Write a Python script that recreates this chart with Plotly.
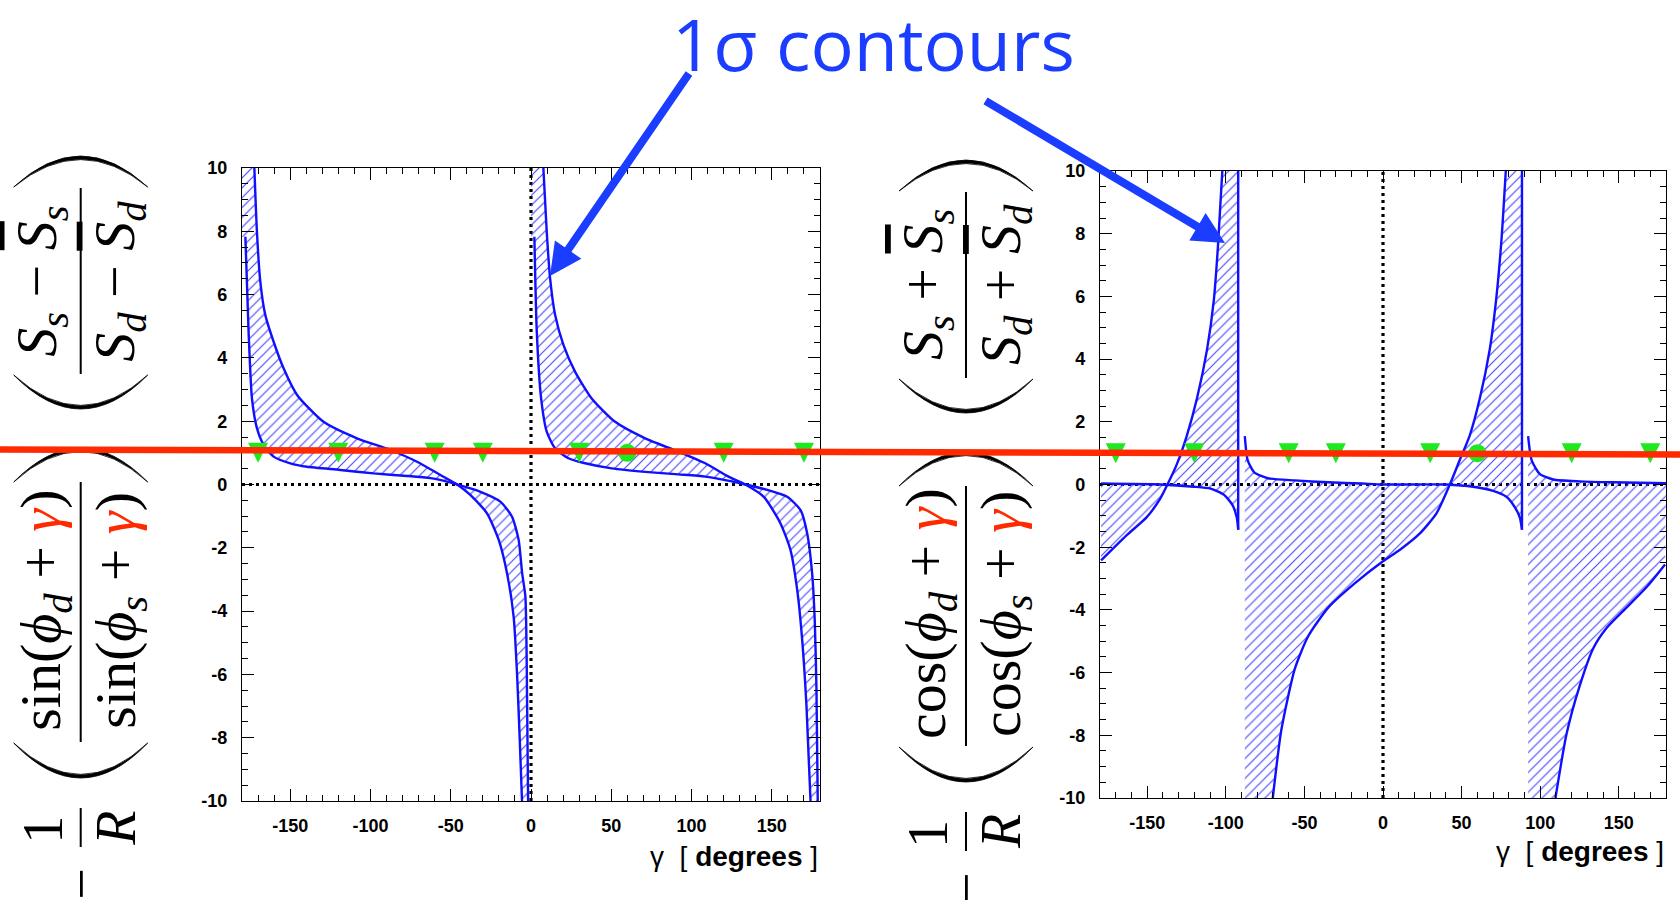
import plotly.graph_objects as go

W, H = 1680, 900

# ---------------- axes / ticks ----------------
X_RANGE = [-180, 180]
Y_RANGE = [-10, 10]
X_TICKS = [-150, -100, -50, 0, 50, 100, 150]
X_TICKTEXT = ["-150", "-100", "-50", "0", "50", "100", "150"]
Y_TICKS = [-10, -8, -6, -4, -2, 0, 2, 4, 6, 8, 10]
Y_TICKTEXT = ["-10", "-8", "-6", "-4", "-2", "0", "2", "4", "6", "8", "10"]
X_MID = 0

# ---------------- left panel (sin ratio) : 1 sigma band boundaries ----------------
P1_g = [-172.3, -170.7, -168.6, -165.5, -160.3, -154.1, -145.7, -129.2, -108.4, -87.6, -71.0,
        -56.4, -46.0, -37.8, -27.4, -20.1, -14.9, -10.8, -8.7, -7.0, -5.6]
P1_v = [10.0, 7.99, 6.41, 5.36, 4.51, 3.67, 2.83, 1.98, 1.46, 1.09, 0.72,
        0.30, 0.0, -0.33, -0.91, -1.75, -2.81, -4.18, -5.97, -8.07, -10.0]
Q1_g = [-177.9, -175.9, -173.8, -170.7, -166.5, -160.3, -149.9, -139.5, -118.8, -98.0, -77.2,
        -62.7, -52.3, -46.0, -31.5, -19.1, -11.8, -7.7, -5.5, -3.5, -2.4, -1.8]
Q1_v = [7.83, 4.83, 2.72, 1.78, 1.25, 0.88, 0.67, 0.56, 0.46, 0.35, 0.27,
        0.20, 0.09, 0.0, -0.23, -0.54, -1.02, -1.75, -2.81, -3.54, -7.02, -10.0]
P2_g = [7.7, 9.8, 11.9, 15.0, 20.2, 27.5, 37.8, 52.4, 71.1, 91.8, 108.5, 123.0, 133.5,
        145.0, 155.4, 161.6, 165.8, 168.9, 171.6, 174.1]
P2_v = [10.0, 7.99, 6.51, 5.36, 4.41, 3.56, 2.72, 1.98, 1.46, 1.04, 0.67, 0.25, 0.0,
        -0.39, -1.23, -2.07, -3.33, -4.91, -7.02, -10.0]
Q2_g = [2.1, 3.6, 6.3, 9.8, 15.0, 23.3, 33.7, 50.3, 71.1, 91.8, 108.5, 120.9, 133.5,
        147.1, 159.6, 167.9, 172.0, 175.1, 176.8, 177.8, 178.6]
Q2_v = [7.83, 4.83, 2.72, 1.67, 1.14, 0.83, 0.67, 0.51, 0.40, 0.32, 0.25, 0.14, 0.0,
        -0.17, -0.39, -0.81, -1.54, -2.81, -4.39, -6.49, -10.0]

# ---------------- right panel (cos ratio) ----------------
GA_g = [-179.3, -163.3, -150.4, -141.8, -137.1, -131.1, -124.7, -118.3, -111.9, -107.6, -105.0, -102.2]
GA_v = [-2.42, -1.63, -1.05, -0.46, 0.0, 0.65, 1.57, 2.75, 4.31, 5.88, 7.58, 10.0]
FA_g = [-179.3, -141.8, -120.4, -109.7, -101.1, -95.8, -93.0, -92.1]
FA_v = [0.03, 0.0, -0.07, -0.13, -0.33, -0.65, -1.05, -1.44]
FB_g = [-87.9, -86.1, -81.9, -73.3, -56.1, -34.7, -13.3, 0.0, 40.3, 57.3, 70.0, 78.5, 83.8, 87.0, 88.4]
FB_v = [1.54, 0.78, 0.39, 0.20, 0.13, 0.07, 0.03, 0.0, 0.0, -0.07, -0.20, -0.39, -0.72, -1.05, -1.44]
GB_g = [-70.1, -64.7, -56.1, -47.6, -34.7, -17.6, 0.0, 10.6, 23.3, 34.0, 42.5, 48.8, 55.2,
        61.6, 67.9, 72.2, 75.4, 78.1]
GB_v = [-10.0, -7.84, -5.88, -4.84, -3.92, -3.14, -2.45, -2.09, -1.57, -0.92, 0.0, 0.78, 1.57,
        2.75, 4.31, 6.01, 7.84, 10.0]
FC_g = [92.3, 94.5, 99.8, 108.3, 125.2, 146.5, 180.0]
FC_v = [1.54, 0.78, 0.33, 0.16, 0.10, 0.07, 0.04]
GC_g = [109.7, 116.7, 125.2, 133.7, 142.2, 155.0, 167.7, 179.4]
GC_v = [-10.0, -7.97, -6.41, -5.23, -4.58, -3.92, -3.27, -2.55]

# ---------------- reference points ----------------
TRI_g = [-170, -120, -60, -30, 30, 120, 170]
TRI_v = [1.0, 1.0, 1.0, 1.0, 1.0, 1.0, 1.0]
CIRC_g = [60]
CIRC_v = [1.0]

# ---------------- styles ----------------
BLUE = "#1010ff"
HATCH = "#4a4aff"
GREEN = "#1ee81e"
RED = "#ff2a00"
ARROW = "#1a3dff"

fig = go.Figure()


def band(x, y, xa, ya):
    fig.add_trace(go.Scatter(
        x=x, y=y, xaxis=xa, yaxis=ya, mode="lines", line=dict(width=0, color=HATCH),
        fill="toself", fillcolor="rgba(0,0,0,0)",
        fillpattern=dict(shape="/", fgcolor=HATCH, bgcolor="rgba(0,0,0,0)", size=7, solidity=0.17),
        hoverinfo="skip", showlegend=False))


def curve(x, y, xa, ya, shape="spline"):
    fig.add_trace(go.Scatter(
        x=x, y=y, xaxis=xa, yaxis=ya, mode="lines",
        line=dict(color=BLUE, width=2.4, shape=shape, smoothing=0.6),
        hoverinfo="skip", showlegend=False))


# left panel bands
band([X_RANGE[0]] + P1_g + Q1_g[::-1] + [X_RANGE[0]],
     [Y_RANGE[1]] + P1_v + Q1_v[::-1] + [Q1_v[0]], "x", "y")
band([X_MID] + P2_g + Q2_g[::-1] + [X_MID],
     [Y_RANGE[1]] + P2_v + Q2_v[::-1] + [Q2_v[0]], "x", "y")
for gx, gy in [(P1_g, P1_v), (Q1_g, Q1_v), (P2_g, P2_v), (Q2_g, Q2_v)]:
    curve(gx, gy, "x", "y")

# right panel bands
band(FA_g + [FA_g[-1]] + GA_g[::-1], FA_v + [Y_RANGE[1]] + GA_v[::-1], "x2", "y2")
band(FB_g + [FB_g[-1]] + GB_g[::-1] + [FB_g[0]],
     FB_v + [Y_RANGE[1]] + GB_v[::-1] + [Y_RANGE[0]], "x2", "y2")
band(FC_g + GC_g[::-1] + [FC_g[0]], FC_v + GC_v[::-1] + [Y_RANGE[0]], "x2", "y2")
for gx, gy in [(GA_g, GA_v), (FA_g, FA_v), (FB_g, FB_v), (GB_g, GB_v), (FC_g, FC_v), (GC_g, GC_v)]:
    curve(gx, gy, "x2", "y2")
for fx, fy in [(FA_g, FA_v), (FB_g, FB_v)]:
    curve([fx[-1], fx[-1]], [fy[-1], Y_RANGE[1]], "x2", "y2", shape="linear")

# markers on both panels
for xa, ya in [("x", "y"), ("x2", "y2")]:
    fig.add_trace(go.Scatter(
        x=TRI_g, y=TRI_v, xaxis=xa, yaxis=ya, mode="markers",
        marker=dict(symbol="arrow-down", size=20, standoff=10, color=GREEN, line=dict(width=0)),
        hoverinfo="skip", showlegend=False))
    fig.add_trace(go.Scatter(
        x=CIRC_g, y=CIRC_v, xaxis=xa, yaxis=ya, mode="markers",
        marker=dict(symbol="circle", size=18, color=GREEN, line=dict(width=0)),
        hoverinfo="skip", showlegend=False))

# ---------------- axes ----------------
tickfont = dict(family="Liberation Sans", size=18, color="black", weight="bold")


def xax(domain):
    return dict(domain=domain, range=X_RANGE, tickvals=X_TICKS, ticktext=X_TICKTEXT, automargin=False,
                ticks="inside", ticklen=12, tickwidth=1, tickcolor="black",
                minor=dict(dtick=10, tick0=0, ticks="inside", ticklen=6, tickcolor="black", tickwidth=1),
                showline=True, linecolor="black", linewidth=1.2, mirror="allticks",
                showgrid=False, zeroline=False, tickfont=tickfont, ticklabelstandoff=8, fixedrange=True)


def yax(domain, anchor):
    return dict(domain=domain, range=Y_RANGE, tickvals=Y_TICKS, ticktext=Y_TICKTEXT, anchor=anchor,
                automargin=False,
                ticks="inside", ticklen=12, tickwidth=1, tickcolor="black",
                minor=dict(dtick=0.5, tick0=0, ticks="inside", ticklen=6, tickcolor="black", tickwidth=1),
                showline=True, linecolor="black", linewidth=1.2, mirror="allticks",
                showgrid=False, zeroline=False, tickfont=tickfont, ticklabelstandoff=10, fixedrange=True)


fig.update_layout(
    template="none",
    width=W, height=H, margin=dict(l=0, r=0, t=0, b=0, pad=0, autoexpand=False),
    paper_bgcolor="white", plot_bgcolor="white", showlegend=False,
    xaxis=dict(xax([242 / W, 820 / W]), anchor="y"),
    yaxis=yax([1 - 801 / H, 1 - 168 / H], "x"),
    xaxis2=dict(xax([1100 / W, 1666 / W]), anchor="y2"),
    yaxis2=yax([1 - 798 / H, 1 - 171 / H], "x2"),
)

shapes = []
ann = []

# dotted zero lines
for xa, ya in [("x", "y"), ("x2", "y2")]:
    shapes.append(dict(type="line", xref=xa + " domain", x0=0, x1=1, yref=ya, y0=0, y1=0,
                       line=dict(color="black", width=3.2, dash="3px,4px"), layer="below"))
    shapes.append(dict(type="line", xref=xa, x0=0, x1=0, yref=ya + " domain", y0=0, y1=1,
                       line=dict(color="black", width=3.2, dash="3px,4px"), layer="below"))

# x axis titles
for xa, yy in [("x", 856), ("x2", 851)]:
    ann.append(dict(xref=xa + " domain", x=1.0, xanchor="right", yref="paper", y=1 - yy / H,
                    yanchor="middle", showarrow=False,
                    text="γ  [ <b>degrees</b> ]",
                    font=dict(family="Liberation Sans", size=28, color="black")))


# ---------------- rotated formula labels ----------------
def P(x, y):
    return "%.5f,%.5f" % (x / W, 1 - y / H)


def rot(x, y, text, size=58):
    ann.append(dict(xref="paper", yref="paper", x=x / W, y=1 - y / H, text=text, showarrow=False,
                    textangle=-90, xanchor="center", yanchor="middle",
                    font=dict(family="Liberation Serif", size=size, color="black")))


def vbar(x, y0, y1):
    shapes.append(dict(type="line", xref="paper", yref="paper", x0=x / W, x1=x / W,
                       y0=1 - y0 / H, y1=1 - y1 / H, line=dict(color="black", width=2)))


def paren(xa, xb, y_end, y_apex, thick=3.6):
    xm = (xa + xb) / 2
    c1 = 2 * y_apex - y_end
    sgn = 1 if y_apex > y_end else -1
    c2 = 2 * (y_apex - sgn * thick) - y_end
    path = "M%s Q%s %s Q%s %s Z" % (P(xa, y_end), P(xm, c1), P(xb, y_end), P(xm, c2), P(xa, y_end))
    shapes.append(dict(type="path", xref="paper", yref="paper", path=path,
                       fillcolor="black", line=dict(color="black", width=0.8)))


G = '<span style="color:%s"><i>γ</i></span>' % RED
OV = '<span style="text-decoration:overline"><i>S</i></span>'


def formula(bar, fname, sign, yoff):
    # -1/R
    rot(bar, 884 + yoff, "−", 56)
    rot(bar - 38, 830 + yoff, "1", 56)
    rot(bar + 35, 828 + yoff, "<i>R</i>", 56)
    vbar(bar, 808 + yoff, 847 + yoff)
    # trig ratio
    rot(bar - 37, 610 + yoff, fname + "(<i>ϕ</i><sub><i>d</i></sub> + " + G + ")")
    rot(bar + 38, 610 + yoff, fname + "(<i>ϕ</i><sub><i>s</i></sub> + " + G + ")")
    vbar(bar, 482 + yoff, 742 + yoff)
    paren(bar - 67, bar + 67, 743 + yoff, 778 + yoff)
    paren(bar - 67, bar + 67, 482 + yoff, 448 + yoff)
    # S ratio
    rot(bar - 40, 281 + yoff,
        "<i>S</i><sub><i>s</i></sub> " + sign + " " + OV + "<sub><i>s</i></sub>")
    rot(bar + 38, 281 + yoff,
        "<i>S</i><sub><i>d</i></sub> " + sign + " " + OV + "<sub><i>d</i></sub>")
    vbar(bar, 188 + yoff, 374 + yoff)
    paren(bar - 67, bar + 67, 375 + yoff, 409 + yoff)
    paren(bar - 67, bar + 67, 187 + yoff, 156 + yoff)


formula(80.7, "sin", "−", 0)
formula(966, "cos", "+", 4)

# title and arrows
ann.append(dict(xref="paper", yref="paper", x=873 / W, y=1 - 43 / H, text="1σ contours",
                showarrow=False, xanchor="center", yanchor="middle",
                font=dict(family="Open Sans", size=72, color=ARROW)))
for (tx, ty), (sx, sy) in [((550, 276), (690, 72)), ((1225, 243), (984, 100))]:
    ann.append(dict(xref="paper", yref="paper", x=tx / W, y=1 - ty / H, ax=sx - tx, ay=sy - ty,
                    text="", showarrow=True, arrowhead=2, arrowwidth=8, arrowsize=0.8,
                    arrowcolor=ARROW))

# red horizontal line across the figure
shapes.append(dict(type="line", xref="paper", yref="paper", x0=0, x1=1,
                   y0=1 - 449.5 / H, y1=1 - 454.5 / H, line=dict(color=RED, width=6.5), layer="above"))

fig.update_layout(shapes=shapes, annotations=ann)
fig.write_html("out.html", config={"displayModeBar": False},
               post_script="document.body.style.margin='0px';")
